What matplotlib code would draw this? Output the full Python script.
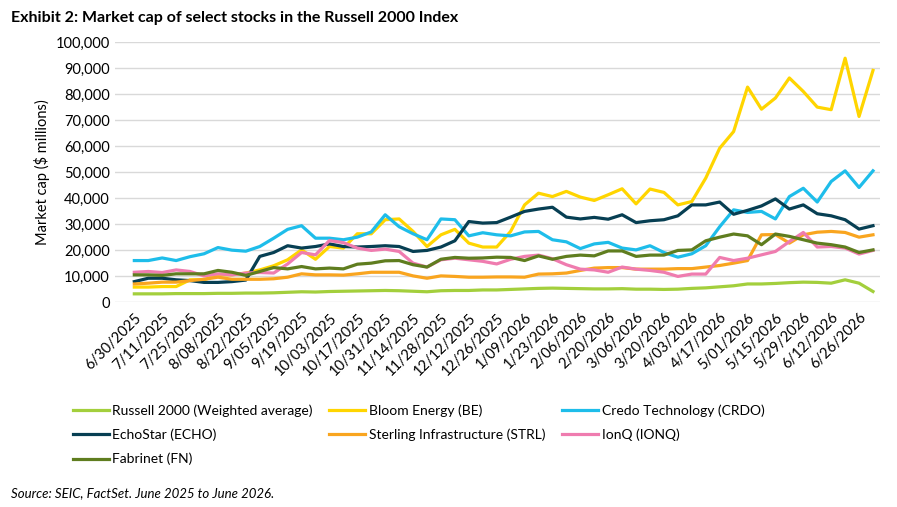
import matplotlib.pyplot as plt
import pandas as pd

plt.rcParams['font.family'] = ['Lato', 'DejaVu Sans']

# weekly dates, June 2025 to July 2026
dates = ["6/30/2025"] + [d.strftime("%-m/%d/%Y") for d in pd.date_range("2025-07-04", "2026-07-03", freq="7D")]

russell = [3.2, 3.2, 3.2, 3.3, 3.3, 3.3, 3.4, 3.4, 3.5, 3.5, 3.6, 3.8, 4.0, 3.9, 4.1, 4.2, 4.3, 4.4, 4.5, 4.4,
           4.2, 4.0, 4.4, 4.5, 4.5, 4.7, 4.7, 4.9, 5.1, 5.3, 5.4, 5.3, 5.2, 5.1, 5.1, 5.2, 5.0, 5.0, 4.9, 5.0,
           5.3, 5.5, 5.9, 6.3, 7.0, 7.0, 7.2, 7.5, 7.7, 7.6, 7.3, 8.6, 7.3, 4.1]
bloom = [5.8, 5.8, 6.0, 6.0, 8.6, 8.6, 10.5, 10.5, 11.2, 12.4, 14.0, 16.3, 20.1, 16.5, 21.4, 20.8, 26.3, 26.3, 31.7, 32.0,
         27.2, 21.4, 25.9, 28.0, 22.7, 21.2, 21.2, 27.2, 37.4, 41.9, 40.6, 42.6, 40.4, 39.1, 41.3, 43.6, 37.8, 43.5, 42.2, 37.4,
         38.7, 47.7, 59.2, 65.6, 82.7, 74.2, 78.5, 86.2, 81.0, 75.0, 74.0, 93.8, 71.4, 89.1]
credo = [16.0, 16.0, 17.0, 16.0, 17.5, 18.6, 21.0, 20.0, 19.6, 21.4, 24.6, 28.0, 29.4, 24.6, 24.6, 24.0, 25.0, 27.0, 33.6, 29.0,
         26.3, 24.0, 32.0, 31.7, 25.5, 26.7, 25.9, 25.5, 27.0, 27.2, 24.0, 23.2, 20.6, 22.4, 23.0, 20.8, 20.1, 21.7, 19.1, 17.3,
         18.6, 21.7, 29.0, 35.5, 34.5, 34.9, 32.0, 40.6, 43.8, 38.5, 46.4, 50.5, 44.1, 50.5]
echo = [7.9, 9.2, 9.2, 8.6, 8.3, 7.6, 7.6, 7.9, 8.5, 17.6, 19.1, 21.7, 20.8, 21.4, 22.4, 21.4, 21.2, 21.4, 21.7, 21.4,
        19.5, 19.9, 21.2, 23.6, 31.0, 30.4, 30.6, 32.7, 34.9, 35.8, 36.5, 32.7, 32.0, 32.6, 31.9, 33.6, 30.6, 31.3, 31.7, 33.2,
        37.4, 37.4, 38.5, 33.8, 35.3, 37.0, 39.7, 35.8, 37.4, 34.0, 33.2, 31.7, 28.1, 29.4]
strl = [7.0, 7.3, 7.7, 7.7, 8.3, 8.8, 9.6, 8.8, 8.8, 8.8, 9.0, 9.6, 10.9, 10.5, 10.5, 10.4, 10.9, 11.5, 11.5, 11.5,
        10.1, 9.2, 10.1, 9.9, 9.6, 9.6, 9.7, 9.7, 9.6, 10.8, 10.9, 11.2, 12.2, 13.1, 13.3, 13.3, 12.7, 12.7, 12.7, 12.9,
        12.9, 13.5, 14.1, 15.0, 16.0, 25.9, 26.0, 22.7, 25.9, 26.9, 27.2, 26.8, 25.0, 25.9]
ionq = [11.5, 11.8, 11.4, 12.4, 11.8, 10.1, 10.9, 10.5, 11.2, 11.4, 11.2, 14.7, 19.1, 18.2, 23.7, 22.9, 20.8, 19.9, 20.4, 19.5,
        15.0, 13.5, 16.3, 16.9, 16.3, 15.7, 14.7, 16.5, 17.6, 18.1, 16.7, 14.4, 12.7, 12.4, 11.5, 13.5, 12.7, 12.2, 11.5, 9.9,
        10.8, 10.8, 17.2, 16.0, 16.9, 18.2, 19.5, 23.3, 26.8, 21.2, 21.4, 20.8, 18.5, 19.9]
fn = [10.5, 10.5, 10.3, 10.9, 10.9, 10.9, 12.2, 11.5, 10.3, 11.8, 13.3, 12.8, 13.7, 12.8, 13.1, 12.8, 14.6, 15.0, 15.9, 16.0,
      14.4, 13.5, 16.5, 17.2, 16.9, 17.0, 17.3, 17.2, 16.0, 17.8, 16.5, 17.6, 18.1, 17.8, 19.7, 19.7, 17.6, 18.1, 18.1, 19.9,
      20.1, 23.6, 25.0, 26.2, 25.5, 22.1, 26.2, 25.3, 24.0, 22.7, 22.1, 21.2, 19.1, 20.1]

series = [
    ("Russell 2000 (Weighted average)", russell, "#a3cf3c"),
    ("Bloom Energy (BE)", bloom, "#ffd500"),
    ("Credo Technology (CRDO)", credo, "#1ebdea"),
    ("EchoStar (ECHO)", echo, "#073f53"),
    ("Sterling Infrastructure (STRL)", strl, "#f9a51f"),
    ("IonQ (IONQ)", ionq, "#ef7caf"),
    ("Fabrinet (FN)", fn, "#5f7d1f"),
]

fig = plt.figure(figsize=(8.97, 5.07), dpi=100)
ax = fig.add_axes([0.128, 0.404, 0.853, 0.513])
x = list(range(len(dates)))
lines = {}
for name, vals, col in series:
    lines[name], = ax.plot(x, [v * 1000 for v in vals], color=col, lw=2.3, label=name)

ax.set_ylim(0, 100000)
ax.set_yticks(range(0, 100001, 10000))
ax.set_yticklabels([f"{v:,}" for v in range(0, 100001, 10000)], fontsize=10.5)
ax.set_xlim(-1.4, 53.5)
ax.set_xticks(x[::2])
ax.set_xticklabels(dates[::2], rotation=45, ha="right", rotation_mode="anchor", fontsize=10.5)
ax.tick_params(length=0)
ax.tick_params(axis="x", pad=6)
ax.grid(axis="y", color="#d9d9d9", lw=1)
ax.set_axisbelow(True)
for s in ["top", "right", "left", "bottom"]:
    ax.spines[s].set_visible(False)
ax.set_ylabel("Market cap ($ millions)", fontsize=10.5)

fig.text(0.012, 0.965, "Exhibit 2: Market cap of select stocks in the Russell 2000 Index",
         fontsize=11.5, fontweight="bold", va="center")

# legend is filled column by column, so reorder to read row by row
order = [0, 3, 6, 1, 4, 2, 5]
handles = [lines[series[i][0]] for i in order]
fig.legend(handles, [h.get_label() for h in handles], loc="upper left", bbox_to_anchor=(0.07, 0.222),
           ncol=3, frameon=False, fontsize=10, handlelength=2.6, columnspacing=1.2,
           labelspacing=0.85, handletextpad=0.25, borderpad=0.2)
fig.text(0.012, 0.02, "Source: SEIC, FactSet. June 2025 to June 2026.", fontsize=9.5, style="italic")

fig.savefig("out.png", dpi=100)
